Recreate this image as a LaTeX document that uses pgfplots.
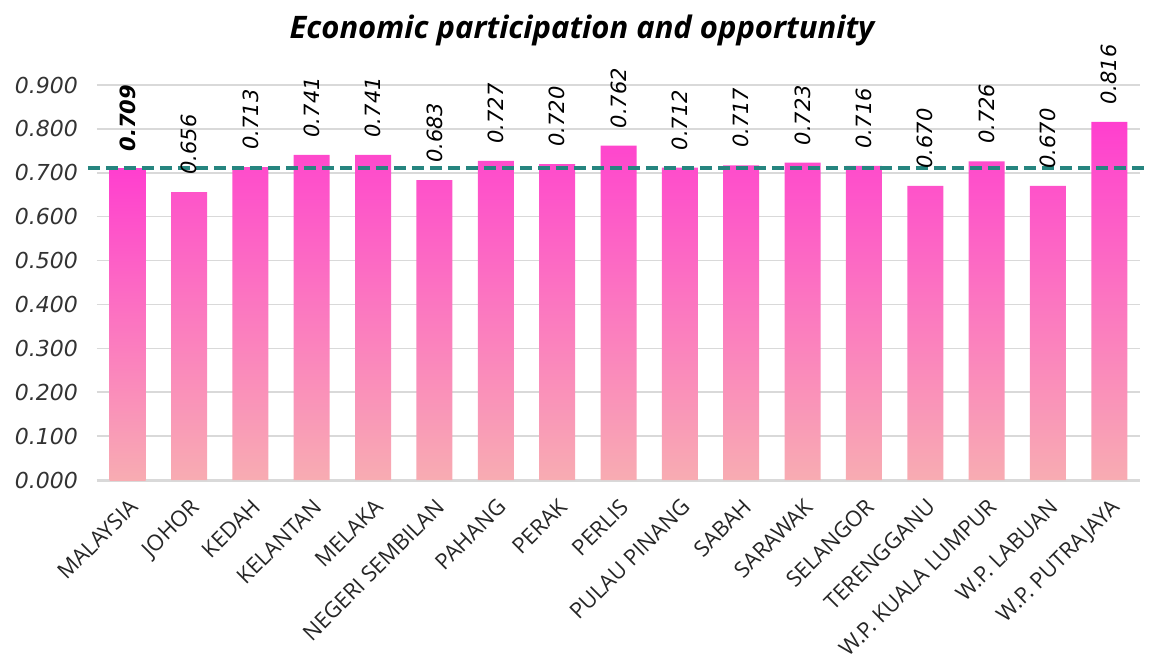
\documentclass[border=0pt]{standalone}
\usepackage{pgfplots}
\pgfplotsset{compat=1.18}
\usepackage{fontspec}
\setmainfont{Open Sans}
\newfontfamily\titlefont{Open Sans}
\newfontfamily\labfont{Open Sans}
\newfontfamily\numfont{DejaVu Sans}
\definecolor{bartop}{HTML}{FF3FCF}
\definecolor{barmid}{HTML}{FA7DC0}
\definecolor{barbot}{HTML}{F8ACB2}
\definecolor{avgline}{HTML}{26857F}
\definecolor{gridc}{HTML}{D9D9D9}
\definecolor{tickc}{HTML}{333333}
\begin{document}
\begin{tikzpicture}
\begin{axis}[
  name=ax,
  width=521.5pt, height=197.5pt, scale only axis,
  xmin=-0.5, xmax=16.5, ymin=0, ymax=0.9,
  clip=false,
  axis line style={draw=none},
  ytick={0,0.1,...,0.9},
  ymajorgrids, grid style={gridc, line width=0.8pt},
  major tick length=0pt,
  xtick={0,1,...,16},
  xticklabels={MALAYSIA,JOHOR,KEDAH,KELANTAN,MELAKA,NEGERI SEMBILAN,PAHANG,PERAK,PERLIS,PULAU PINANG,SABAH,SARAWAK,SELANGOR,TERENGGANU,W.P. KUALA LUMPUR,W.P. LABUAN,W.P. PUTRAJAYA},
  xticklabel style={font=\labfont\fontsize{11}{12}\selectfont, rotate=45, anchor=north east, inner sep=1pt, color=black!85},
  yticklabel style={font=\numfont\itshape\fontsize{11}{12}\selectfont, color=tickc},
  yticklabel={\pgfmathprintnumber[assume math mode=true,fixed,fixed zerofill,precision=3]{\tick}},
  xticklabel shift=7pt,
  yticklabel shift=6pt,
]
% axis baseline
\draw[gridc, line width=1.5pt] (rel axis cs:0,0) -- (rel axis cs:1,0);
\coordinate (ll) at (rel axis cs:0,0);
\coordinate (ur) at (rel axis cs:1,1);

\addplot[ybar, bar width=18pt, bar shift=0pt, draw=none,
  top color=bartop, middle color=barmid, bottom color=barbot,
  nodes near coords={\pgfmathprintnumber[assume math mode=true,fixed,fixed zerofill,precision=3]{\pgfplotspointmeta}},
  every node near coord/.append style={font=\numfont\itshape\fontsize{10.5}{12}\selectfont, rotate=90, anchor=west, inner xsep=8.5pt, inner ysep=0pt, color=black}]
  coordinates {(1,0.656) (2,0.713) (3,0.741) (4,0.741) (5,0.683) (6,0.727) (7,0.720) (8,0.762) (9,0.712) (10,0.717) (11,0.723) (12,0.716) (13,0.670) (14,0.726) (15,0.670) (16,0.816)};

\addplot[ybar, bar width=18pt, bar shift=0pt, draw=none,
  top color=bartop, middle color=barmid, bottom color=barbot,
  nodes near coords={\pgfmathprintnumber[assume math mode=true,fixed,fixed zerofill,precision=3]{\pgfplotspointmeta}},
  every node near coord/.append style={font=\numfont\bfseries\itshape\fontsize{10.5}{12}\selectfont, rotate=90, anchor=west, inner xsep=8.5pt, inner ysep=0pt, color=black}]
  coordinates {(0,0.709)};

\addplot[avgline, line width=1.6pt, dash pattern=on 6pt off 3pt, forget plot]
  coordinates {(-0.65,0.711) (16.65,0.711)};

\node[font=\titlefont\bfseries\itshape\fontsize{15.5}{18}\selectfont, anchor=center]
  at ([yshift=27.5pt]rel axis cs:0.465,1) {Economic participation and opportunity};
\end{axis}
\pgfresetboundingbox
\path[use as bounding box] ([shift={(-48.5pt,-94pt)}]ll) rectangle ([shift={(4.5pt,42.5pt)}]ur);
\end{tikzpicture}
\end{document}
